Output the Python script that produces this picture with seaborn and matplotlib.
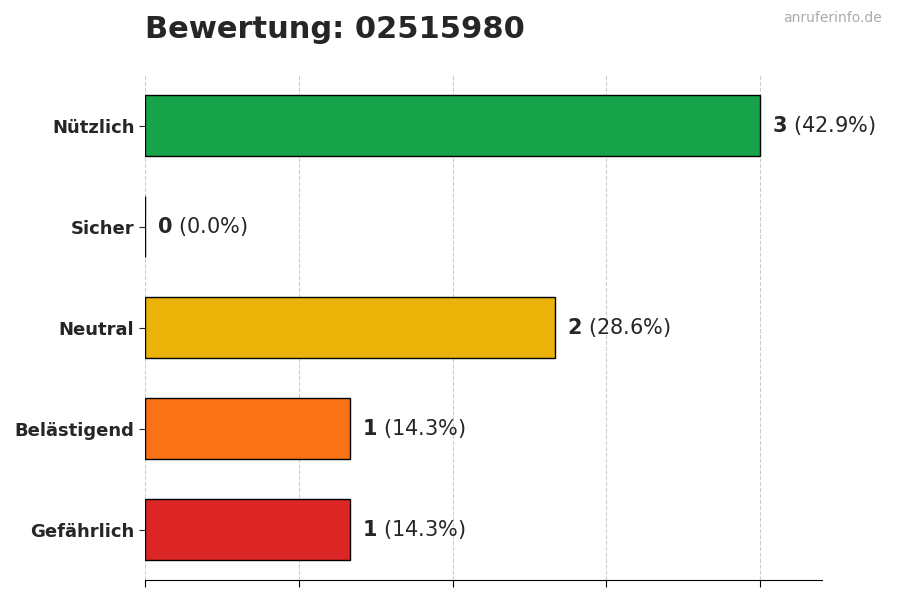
import matplotlib
matplotlib.use("Agg")
import matplotlib.pyplot as plt
import seaborn as sns
import pandas as pd

categories = ["Nützlich", "Sicher", "Neutral", "Belästigend", "Gefährlich"]
counts = [3, 0, 2, 1, 1]
colors = ["#16a34a", "#22c55e", "#eab308", "#f97316", "#dc2626"]
total = sum(counts)

sns.set_style("white")
fig = plt.figure(figsize=(9, 6), dpi=100)
ax = fig.add_axes([0.161, 0.033, 0.752, 0.842])

df = pd.DataFrame({"cat": categories, "n": counts})
sns.barplot(data=df, x="n", y="cat", hue="cat", palette=colors, legend=False,
            orient="h", width=0.6, edgecolor="black", linewidth=1, saturation=1, ax=ax)

for i, c in enumerate(counts):
    pct = c / total * 100
    ax.text(c + 0.06, i, r"$\mathbf{%d}$ (%.1f%%)" % (c, pct), va="center", ha="left", fontsize=15)

ax.set_xlim(0, 3.3)
ax.set_xticks([0, 0.75, 1.5, 2.25, 3])
ax.set_xticklabels([])
ax.tick_params(axis="x", length=5, color="black", direction="out", bottom=True)
ax.tick_params(axis="y", length=4, left=True, labelsize=13)
for lab in ax.get_yticklabels():
    lab.set_fontweight("bold")
ax.xaxis.grid(True, linestyle="--", color="#cccccc", linewidth=0.8)
ax.set_axisbelow(True)
ax.set_xlabel("")
ax.set_ylabel("")
for s in ["top", "right", "left"]:
    ax.spines[s].set_visible(False)
ax.spines["bottom"].set_color("black")

fig.text(0.161, 0.95, "Bewertung: 02515980", fontsize=22, fontweight="bold", va="center")
fig.text(0.98, 0.97, "anruferinfo.de", fontsize=10, color="#aaaaaa", ha="right", va="center")

fig.savefig("out.png", dpi=100)
